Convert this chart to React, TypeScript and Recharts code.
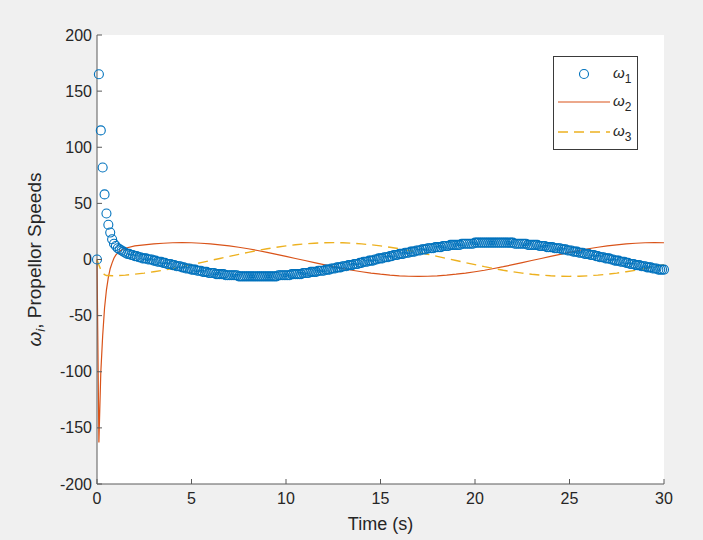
import React from 'react';
import { ComposedChart, Scatter, Line, XAxis, YAxis, CartesianGrid } from 'recharts';

// ---------- data ----------
const xTicks = [0, 5, 10, 15, 20, 25, 30];
const yTicks = [-200, -150, -100, -50, 0, 50, 100, 150, 200];

// omega_1 sampled every 0.1 s from t = 0 to t = 30 (one row per second)
const omega1Step = 0.1;
const omega1Values = [
  0, 165, 115, 82, 58, 41, 31, 24, 18, 14,
  12, 10, 9, 8, 7, 6, 5, 5, 4, 4,
  3, 3, 2, 2, 1, 1, 1, 0, 0, 0,
  -1, -1, -2, -2, -2, -3, -3, -4, -4, -4,
  -5, -5, -6, -6, -6, -7, -7, -8, -8, -8,
  -9, -9, -9, -10, -10, -10, -11, -11, -11, -12,
  -12, -12, -12, -13, -13, -13, -13, -13, -14, -14,
  -14, -14, -14, -14, -14, -15, -15, -15, -15, -15,
  -15, -15, -15, -15, -15, -15, -15, -15, -15, -15,
  -15, -15, -15, -15, -15, -15, -14, -14, -14, -14,
  -14, -14, -14, -13, -13, -13, -13, -13, -13, -12,
  -12, -12, -12, -11, -11, -11, -11, -10, -10, -10,
  -10, -9, -9, -9, -8, -8, -8, -7, -7, -7,
  -6, -6, -6, -5, -5, -5, -4, -4, -4, -3,
  -3, -2, -2, -2, -1, -1, -1, 0, 0, 1,
  1, 1, 2, 2, 2, 3, 3, 4, 4, 4,
  5, 5, 5, 6, 6, 6, 7, 7, 7, 8,
  8, 8, 9, 9, 9, 10, 10, 10, 10, 11,
  11, 11, 11, 12, 12, 12, 12, 13, 13, 13,
  13, 13, 13, 14, 14, 14, 14, 14, 14, 14,
  15, 15, 15, 15, 15, 15, 15, 15, 15, 15,
  15, 15, 15, 15, 15, 15, 15, 15, 15, 15,
  15, 14, 14, 14, 14, 14, 14, 14, 13, 13,
  13, 13, 13, 13, 12, 12, 12, 12, 11, 11,
  11, 11, 10, 10, 10, 10, 9, 9, 9, 8,
  8, 8, 7, 7, 7, 6, 6, 6, 5, 5,
  5, 4, 4, 4, 3, 3, 2, 2, 2, 1,
  1, 1, 0, 0, -1, -1, -1, -2, -2, -2,
  -3, -3, -4, -4, -4, -5, -5, -5, -6, -6,
  -6, -7, -7, -7, -8, -8, -8, -9, -9, -9,
  -9,
];

const omega2Times = [
  0, 0.1, 0.2, 0.3, 0.4, 0.5, 0.6, 0.7, 0.8, 0.9, 1.0, 1.2, 1.5,
  2, 2.5, 3, 3.5, 4, 4.5, 5, 5.5, 6, 6.5, 7, 7.5, 8, 8.5, 9, 9.5,
  10, 10.5, 11, 11.5, 12, 12.5, 13, 13.5, 14, 14.5, 15, 15.5, 16, 16.5,
  17, 17.5, 18, 18.5, 19, 19.5, 20, 20.5, 21, 21.5, 22, 22.5, 23, 23.5,
  24, 24.5, 25, 25.5, 26, 26.5, 27, 27.5, 28, 28.5, 29, 29.5, 30,
];
const omega2Values = [
  0, -163, -101, -68, -43, -27, -16, -8, -3, 1.3, 4.1, 7.5, 10.0,
  12.1, 13.1, 13.9, 14.5, 14.9, 15.0, 14.9, 14.5, 13.9, 13.1, 12.1, 10.9, 9.6, 8.0, 6.4, 4.6,
  2.8, 0.9, -0.9, -2.8, -4.6, -6.4, -8.0, -9.6, -10.9, -12.1, -13.1, -13.9, -14.5, -14.9,
  -15.0, -14.9, -14.5, -13.9, -13.1, -12.1, -10.9, -9.6, -8.0, -6.4, -4.6, -2.8, -0.9, 0.9,
  2.8, 4.6, 6.4, 8.0, 9.6, 10.9, 12.1, 13.1, 13.9, 14.5, 14.9, 15.0, 14.9,
];

const omega3Times = [
  0, 0.1, 0.2, 0.3, 0.4, 0.5,
  1, 1.5, 2, 2.5, 3, 3.5, 4, 4.5, 5, 5.5, 6, 6.5, 7, 7.5, 8, 8.5, 9, 9.5,
  10, 10.5, 11, 11.5, 12, 12.5, 13, 13.5, 14, 14.5, 15, 15.5, 16, 16.5,
  17, 17.5, 18, 18.5, 19, 19.5, 20, 20.5, 21, 21.5, 22, 22.5, 23, 23.5,
  24, 24.5, 25, 25.5, 26, 26.5, 27, 27.5, 28, 28.5, 29, 29.5, 30,
];
const omega3Values = [
  0, -5, -9, -12, -13.5, -14.3,
  -14.5, -13.9, -13.1, -12.1, -10.9, -9.6, -8.0, -6.4, -4.6, -2.8, -0.9, 0.9, 2.8, 4.6, 6.4, 8.0, 9.6, 10.9,
  12.1, 13.1, 13.9, 14.5, 14.9, 15.0, 14.9, 14.5, 13.9, 13.1, 12.1, 10.9, 9.6, 8.0,
  6.4, 4.6, 2.8, 0.9, -0.9, -2.8, -4.6, -6.4, -8.0, -9.6, -10.9, -12.1, -13.1, -13.9,
  -14.5, -14.9, -15.0, -14.9, -14.5, -13.9, -13.1, -12.1, -10.9, -9.6, -8.0, -6.4, -4.6,
];

const omega1Data = omega1Values.map((v, i) => ({ t: Math.round(i * omega1Step * 10) / 10, w1: v }));
const omega2Data = omega2Times.map((t, i) => ({ t, w2: omega2Values[i] }));
const omega3Data = omega3Times.map((t, i) => ({ t, w3: omega3Values[i] }));

// ---------- styling / layout ----------
const W = 703;
const H = 540;
const PLOT_LEFT = 97;
const PLOT_RIGHT = 664;
const PLOT_TOP = 35;
const PLOT_BOTTOM = 484;
const FONT = '"Liberation Sans", Arial, Helvetica, sans-serif';
const TEXT = '#262626';
const FRAME = '#5a5a5a';
const TICK_LEN = 5;
const BLUE = '#0072BD';
const ORANGE = '#D95319';
const YELLOW = '#EDB120';

const BottomTick = (props: any) => {
  const { x, payload } = props;
  return (
    <g>
      <line x1={x} x2={x} y1={PLOT_BOTTOM} y2={PLOT_BOTTOM - TICK_LEN} stroke={FRAME} strokeWidth={1} />
      <text x={x} y={PLOT_BOTTOM + 20} textAnchor="middle" fontSize={16} fontFamily={FONT} fill={TEXT}>
        {payload.value}
      </text>
    </g>
  );
};

const TopTick = (props: any) => {
  const { x } = props;
  return <line x1={x} x2={x} y1={PLOT_TOP} y2={PLOT_TOP + TICK_LEN} stroke={FRAME} strokeWidth={1} />;
};

const LeftTick = (props: any) => {
  const { y, payload } = props;
  return (
    <g>
      <line x1={PLOT_LEFT} x2={PLOT_LEFT + TICK_LEN} y1={y} y2={y} stroke={FRAME} strokeWidth={1} />
      <text x={PLOT_LEFT - 5} y={y + 5.5} textAnchor="end" fontSize={16} fontFamily={FONT} fill={TEXT}>
        {payload.value}
      </text>
    </g>
  );
};

const RightTick = (props: any) => {
  const { y } = props;
  return <line x1={PLOT_RIGHT} x2={PLOT_RIGHT - TICK_LEN} y1={y} y2={y} stroke={FRAME} strokeWidth={1} />;
};

const XLabel = () => (
  <text x={(PLOT_LEFT + PLOT_RIGHT) / 2} y={530} textAnchor="middle" fontSize={18} fontFamily={FONT} fill={TEXT}>
    Time (s)
  </text>
);

const YLabel = () => {
  const cx = 41;
  const cy = (PLOT_TOP + PLOT_BOTTOM) / 2;
  return (
    <text
      x={cx}
      y={cy}
      transform={`rotate(-90, ${cx}, ${cy})`}
      textAnchor="middle"
      fontSize={19}
      fontFamily={FONT}
      fill={TEXT}
    >
      <tspan fontStyle="italic">ω</tspan>
      <tspan dy={4} fontSize={13} fontStyle="italic">i</tspan>
      <tspan dy={-4}>, Propellor Speeds</tspan>
    </text>
  );
};

const TitleLabel = () => (
  <text
    x={(PLOT_LEFT + PLOT_RIGHT) / 2}
    y={23}
    textAnchor="middle"
    fontSize={17.5}
    fontWeight="bold"
    fontFamily={FONT}
    fill="#000"
  >
    Robot propellor speeds (rad/s)
  </text>
);

const CircleMarker = (props: any) => {
  const { cx, cy } = props;
  if (cx == null || cy == null) return null;
  return <circle cx={cx} cy={cy} r={4.5} fill="none" stroke={BLUE} strokeWidth={1.1} />;
};

const LegendBox = () => (
  <div
    style={{
      position: 'absolute',
      left: 553,
      top: 56,
      width: 85,
      height: 94,
      boxSizing: 'border-box',
      border: '1px solid #3a3a3a',
      background: '#fff',
    }}
  >
    <svg width={83} height={92} style={{ display: 'block' }}>
      <circle cx={30} cy={17} r={4.5} fill="none" stroke={BLUE} strokeWidth={1.1} />
      <text x={59} y={21} fontSize={15} fontFamily={FONT} fill={TEXT} fontStyle="italic">
        ω<tspan dy={5} fontSize={12} fontStyle="normal">1</tspan>
      </text>
      <line x1={4} x2={56} y1={45} y2={45} stroke={ORANGE} strokeWidth={1.2} />
      <text x={59} y={49} fontSize={15} fontFamily={FONT} fill={TEXT} fontStyle="italic">
        ω<tspan dy={5} fontSize={12} fontStyle="normal">2</tspan>
      </text>
      <line x1={4} x2={56} y1={75} y2={75} stroke={YELLOW} strokeWidth={1.4} strokeDasharray="10 6" />
      <text x={59} y={79} fontSize={15} fontFamily={FONT} fill={TEXT} fontStyle="italic">
        ω<tspan dy={5} fontSize={12} fontStyle="normal">3</tspan>
      </text>
    </svg>
  </div>
);

export default function App() {
  return (
    <div
      style={{
        position: 'absolute',
        left: 0,
        top: 0,
        width: W,
        height: H,
        background: '#f0f0f0',
        fontFamily: FONT,
        overflow: 'hidden',
      }}
    >
      <ComposedChart
        width={W}
        height={H}
        margin={{ top: PLOT_TOP, right: W - PLOT_RIGHT, bottom: 0, left: 0 }}
      >
        <CartesianGrid horizontal={false} vertical={false} fill="#ffffff" stroke="none" />
        <XAxis
          dataKey="t"
          type="number"
          domain={[0, 30]}
          ticks={xTicks}
          interval={0}
          height={H - PLOT_BOTTOM}
          tickLine={false}
          tickSize={0}
          axisLine={{ stroke: FRAME, strokeWidth: 1 }}
          tick={<BottomTick />}
          label={<XLabel />}
        />
        <XAxis
          xAxisId="top"
          orientation="top"
          type="number"
          domain={[0, 30]}
          ticks={xTicks}
          interval={0}
          height={0}
          tickLine={false}
          tickSize={0}
          axisLine={{ stroke: FRAME, strokeWidth: 1 }}
          tick={<TopTick />}
          label={<TitleLabel />}
        />
        <YAxis
          type="number"
          domain={[-200, 200]}
          ticks={yTicks}
          interval={0}
          width={PLOT_LEFT}
          tickLine={false}
          tickSize={0}
          axisLine={{ stroke: FRAME, strokeWidth: 1 }}
          tick={<LeftTick />}
          label={<YLabel />}
        />
        <YAxis
          yAxisId="right"
          orientation="right"
          type="number"
          domain={[-200, 200]}
          ticks={yTicks}
          interval={0}
          width={0}
          tickLine={false}
          tickSize={0}
          axisLine={{ stroke: FRAME, strokeWidth: 1 }}
          tick={<RightTick />}
        />
        <Scatter
          name="ω1"
          data={omega1Data}
          dataKey="w1"
          shape={<CircleMarker />}
          isAnimationActive={false}
        />
        <Line
          name="ω2"
          data={omega2Data}
          dataKey="w2"
          type="linear"
          stroke={ORANGE}
          strokeWidth={1.2}
          dot={false}
          activeDot={false}
          isAnimationActive={false}
        />
        <Line
          name="ω3"
          data={omega3Data}
          dataKey="w3"
          type="linear"
          stroke={YELLOW}
          strokeWidth={1.4}
          strokeDasharray="10 6"
          dot={false}
          activeDot={false}
          isAnimationActive={false}
        />
      </ComposedChart>
      <LegendBox />
    </div>
  );
}
